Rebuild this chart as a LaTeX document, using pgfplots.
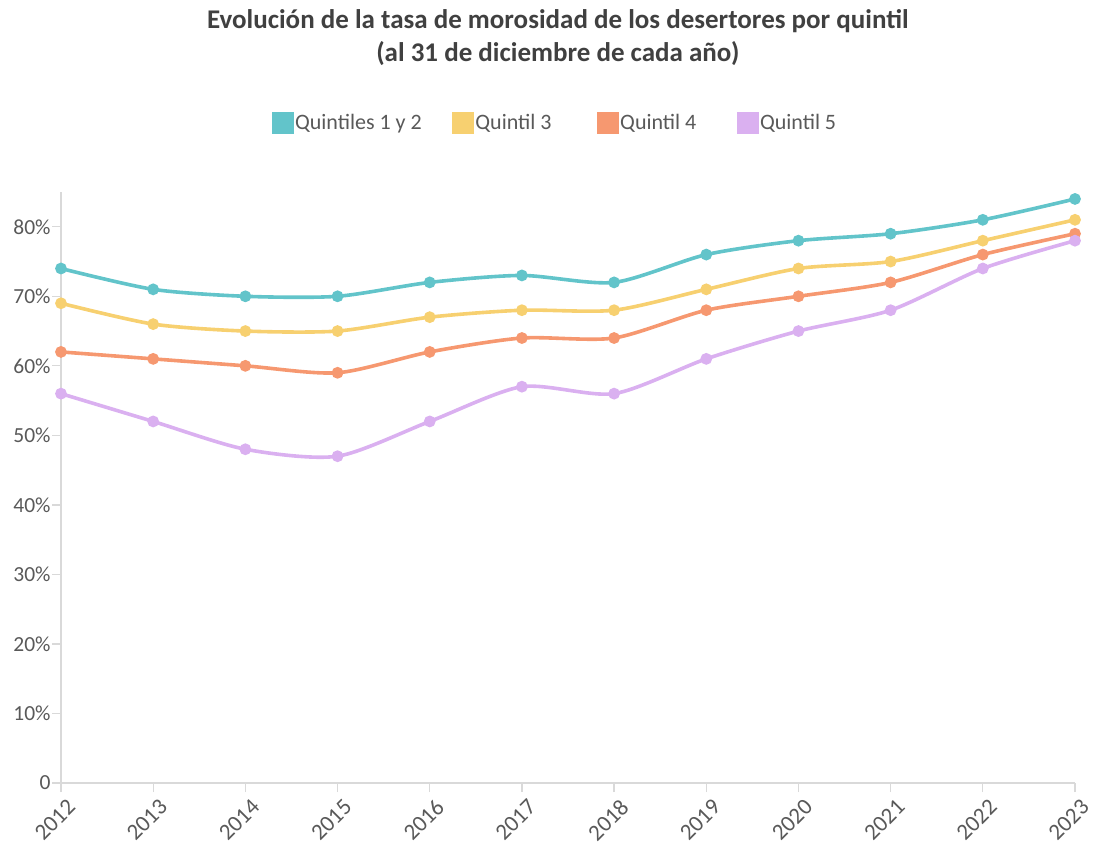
\documentclass[border=0pt]{standalone}
\usepackage{pgfplots}
\pgfplotsset{compat=1.18}
\usepackage{fontspec}
\setmainfont{Carlito}
\definecolor{cteal}{RGB}{98,196,202}
\definecolor{cyell}{RGB}{247,208,112}
\definecolor{corng}{RGB}{246,152,112}
\definecolor{clav}{RGB}{218,176,240}
\definecolor{txt}{RGB}{89,89,89}
\definecolor{ttl}{RGB}{64,64,64}
\definecolor{axc}{RGB}{217,217,217}
\begin{document}
\begin{tikzpicture}
\useasboundingbox (-61pt,-63pt) rectangle (1034pt,783pt);
\begin{axis}[
  at={(0pt,0pt)}, anchor=south west,
  scale only axis,
  width=1014pt, height=591pt,
  xmin=2012, xmax=2023, ymin=0, ymax=85,
  axis lines=left,
  axis line style={-, axc, line width=1.3pt},
  xtick={2012,...,2023},
  ytick={0,10,...,80},
  yticklabels={0,10\%,20\%,30\%,40\%,50\%,60\%,70\%,80\%},
  xticklabel style={xshift=5pt, yshift=-1pt, rotate=45, anchor=north east, font=\fontsize{23}{26}\selectfont, text=txt},
  xticklabel={\pgfmathprintnumber[1000 sep={}]{\tick}},
  yticklabel style={font=\fontsize{21.5}{24}\selectfont, text=txt, xshift=2pt},
  /pgf/number format/assume math mode=true,
  tick style={axc, line width=1.3pt},
  major tick length=9pt,
  tick align=outside,
  title={\bfseries Evolución de la tasa de morosidad de los desertores por quintil\\\bfseries (al 31 de diciembre de cada año)},
  title style={align=center, font=\fontsize{27}{33}\selectfont, text=ttl, at={(0.49,1)}, anchor=south, yshift=117pt},
  legend columns=4,
  legend style={draw=none, at={(0.487,1)}, anchor=south, yshift=56pt, font=\fontsize{22}{26}\selectfont, text=txt,
    nodes={inner xsep=1.5pt},
    /tikz/every even column/.append style={column sep=0pt}},
  legend image code/.code={\fill[#1] (0pt,-9pt) rectangle (18pt,9pt);},
  every axis plot/.append style={smooth, tension=0.45, line width=3.6pt, mark=*, mark size=4pt},
  clip=false,
]
\addplot[cteal, mark options={fill=cteal, draw=cteal}] coordinates {(2012,74)(2013,71)(2014,70)(2015,70)(2016,72)(2017,73)(2018,72)(2019,76)(2020,78)(2021,79)(2022,81)(2023,84)};
\addlegendentry{Quintiles 1 y 2\hspace*{29pt}}
\addplot[cyell, mark options={fill=cyell, draw=cyell}] coordinates {(2012,69)(2013,66)(2014,65)(2015,65)(2016,67)(2017,68)(2018,68)(2019,71)(2020,74)(2021,75)(2022,78)(2023,81)};
\addlegendentry{Quintil 3\hspace*{44pt}}
\addplot[corng, mark options={fill=corng, draw=corng}] coordinates {(2012,62)(2013,61)(2014,60)(2015,59)(2016,62)(2017,64)(2018,64)(2019,68)(2020,70)(2021,72)(2022,76)(2023,79)};
\addlegendentry{Quintil 4\hspace*{39pt}}
\addplot[clav, mark options={fill=clav, draw=clav}] coordinates {(2012,56)(2013,52)(2014,48)(2015,47)(2016,52)(2017,57)(2018,56)(2019,61)(2020,65)(2021,68)(2022,74)(2023,78)};
\addlegendentry{Quintil 5}
\end{axis}
\end{tikzpicture}
\end{document}
